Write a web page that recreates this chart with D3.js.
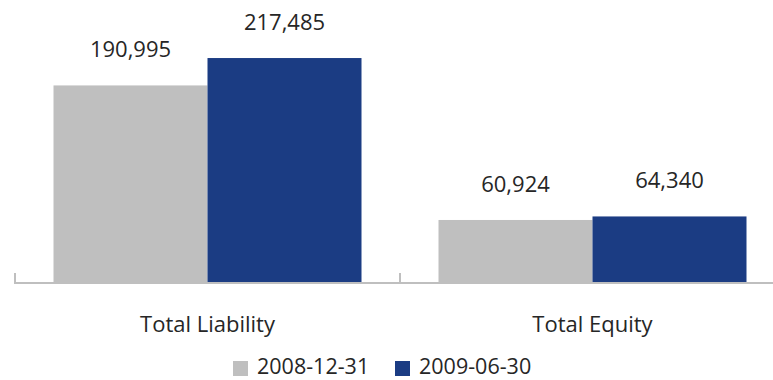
<!DOCTYPE html>
<html>
<head>
<meta charset="utf-8">
<script src="https://cdn.jsdelivr.net/npm/d3@7"></script>
<style>
  html, body { margin: 0; padding: 0; background: #ffffff; }
  svg { display: block; font-family: "Open Sans", sans-serif; }
</style>
</head>
<body>
<svg id="chart" width="773" height="380"></svg>
<script>
// Balance sheet comparison (two reporting dates)
const categories = ["Total Liability", "Total Equity"];
const seriesNames = ["2008-12-31", "2009-06-30"];
const values2008 = [190995, 60924];
const values2009 = [217485, 64340];
const seriesColors = ["#bfbfbf", "#1b3c83"];

const svg = d3.select("#chart");
const W = 773;
const baseY = 283;

const x0 = d3.scaleBand().domain(categories).range([15, 785]).paddingInner(0).paddingOuter(0);
const x1 = d3.scaleBand().domain(seriesNames).range([0, x0.bandwidth()]).paddingOuter(0.25).paddingInner(0);
const y = d3.scaleLinear().domain([0, 250000]).range([baseY, 24.4]);

const series = [values2008, values2009];
const rows = categories.map((c, i) => ({
  cat: c,
  items: seriesNames.map((s, j) => ({ s, v: series[j][i], color: seriesColors[j] }))
}));

const groups = svg.selectAll("g.grp").data(rows).join("g")
  .attr("class", "grp")
  .attr("transform", d => `translate(${x0(d.cat)},0)`);

groups.selectAll("rect").data(d => d.items).join("rect")
  .attr("x", d => x1(d.s))
  .attr("width", x1.bandwidth())
  .attr("y", d => y(d.v))
  .attr("height", d => baseY - y(d.v))
  .attr("fill", d => d.color);

groups.selectAll("text.val").data(d => d.items).join("text")
  .attr("class", "val")
  .attr("x", d => x1(d.s) + x1.bandwidth() / 2)
  .attr("y", d => y(d.v) - 28)
  .attr("text-anchor", "middle")
  .attr("font-size", 22)
  .attr("fill", "#262626")
  .text(d => d3.format(",")(d.v));

// Category axis along the baseline with upward tick marks at band edges
const axisG = svg.append("g");
axisG.append("line")
  .attr("x1", 15).attr("x2", W)
  .attr("y1", baseY).attr("y2", baseY)
  .attr("stroke", "#bfbfbf").attr("stroke-width", 2);
const edges = categories.map(c => x0(c));
axisG.selectAll("line.tick").data(edges).join("line")
  .attr("class", "tick")
  .attr("x1", d => d).attr("x2", d => d)
  .attr("y1", baseY + 1).attr("y2", baseY - 10)
  .attr("stroke", "#bfbfbf").attr("stroke-width", 2);

svg.selectAll("text.cat").data(categories).join("text")
  .attr("class", "cat")
  .attr("x", d => x0(d) + x0.bandwidth() / 2)
  .attr("y", 332)
  .attr("text-anchor", "middle")
  .attr("font-size", 22)
  .attr("fill", "#262626")
  .text(d => d);

// Legend
const legendX = [233, 395];
const legend = svg.selectAll("g.leg").data(seriesNames).join("g")
  .attr("class", "leg")
  .attr("transform", (d, i) => `translate(${legendX[i]},0)`);
legend.append("rect")
  .attr("x", 0).attr("y", 361).attr("width", 15).attr("height", 15)
  .attr("fill", (d, i) => seriesColors[i]);
legend.append("text")
  .attr("x", 24).attr("y", 374)
  .attr("font-size", 21.5)
  .attr("fill", "#262626")
  .text(d => d);
</script>
</body>
</html>
